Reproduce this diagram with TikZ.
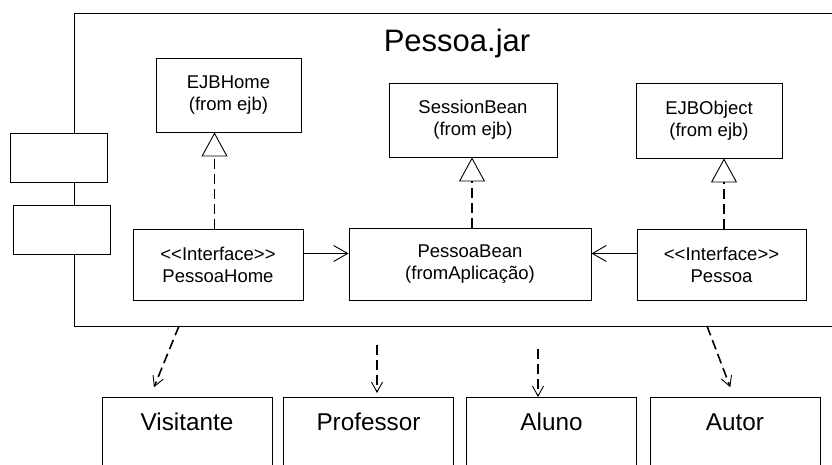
\documentclass[tikz,border=0pt]{standalone}
\usepackage{fontspec}
\setmainfont{Liberation Sans}
\usetikzlibrary{arrows.meta}

\begin{document}
\begin{tikzpicture}[
x=1pt, y=-1pt,
classbox/.style={
draw,
fill=white,
align=center,
line width=0.9pt,
inner sep=0pt,
font=\fontsize{18.5}{22}\selectfont
},
tabbox/.style={
draw,
fill=white,
line width=0.9pt,
minimum width=97pt,
minimum height=49pt
},
actor/.style={
draw,
anchor=north,
line width=0.9pt,
inner sep=0pt,
minimum width=170pt,
text height=33pt,
text depth=50pt,
font=\fontsize{24.3}{28}\selectfont
},
realize/.style={
-{Triangle[open, length=24pt, width=26pt, line width=0.9pt]},
dash pattern=on 10pt off 5pt,
line width=1.8pt
},
assoc/.style={
-{Straight Barb[length=14pt, width=16pt, line width=0.9pt]},
line width=0.9pt
},
depend/.style={
-{Straight Barb[length=10pt, width=11pt, line width=0.9pt]},
dash pattern=on 10pt off 5pt,
line width=1.6pt
}
]
\useasboundingbox (0,0) rectangle (832,465);
\clip (0,0) rectangle (832,465);

% component
\node[draw, line width=0.9pt, inner sep=0pt, minimum width=786pt, minimum height=313pt] (jar) at (467,169.5) {};
\node[font=\fontsize{31}{36}\selectfont] (jartitle) at (457,43) {Pessoa.jar};
\node[tabbox] (tab1) at (58.5,157.5) {};
\node[tabbox] (tab2) at (61.5,229.5) {};

% classes
\node[classbox, minimum width=145pt, minimum height=74pt] (ejbhome) at (228.5,95) {EJBHome\\(from ejb)};
\node[classbox, minimum width=168pt, minimum height=74pt] (sessionbean) at (473,120) {SessionBean\\(from ejb)};
\node[classbox, minimum width=146pt, minimum height=75pt] (ejbobject) at (709,120.5) {EJBObject\\(from ejb)};
\node[classbox, minimum width=170pt, minimum height=71pt] (pessoahome) at (218,264.5) {<{}<Interface>{}>\\PessoaHome};
\node[classbox, minimum width=242pt, minimum height=72pt] (pessoabean) at (470,264) {PessoaBean\\(fromAplicação)};
\node[classbox, minimum width=169pt, minimum height=71pt] (pessoa) at (721.5,264.5) {<{}<Interface>{}>\\Pessoa};

\draw[realize] ([xshift=-3.5pt]pessoahome.north) -- ([xshift=-3.5pt]pessoahome.north |- ejbhome.south);
\draw[realize] ([xshift=2pt]pessoabean.north) -- ([xshift=2pt]pessoabean.north |- sessionbean.south);
\draw[realize] ([xshift=2.5pt]pessoa.north) -- ([xshift=2.5pt]pessoa.north |- ejbobject.south);

\draw[assoc] ([yshift=11pt]pessoahome.east) -- ([yshift=11pt]pessoahome.east -| pessoabean.west);
\draw[assoc] ([yshift=11pt]pessoa.west) -- ([yshift=11pt]pessoa.west -| pessoabean.east);

% actors
\node[actor] (visitante) at (187,397) {Visitante};
\node[actor] (professor) at (368.5,397) {Professor};
\node[actor] (aluno) at (551.5,397) {Aluno};
\node[actor] (autor) at (735,397) {Autor};

\coordinate (d1) at (179,326);
\coordinate (d2) at (377,345);
\coordinate (d3) at (538,349);
\coordinate (d4) at (707,326);

\draw[depend, shorten >=10.5pt] (d1) -- ([xshift=-37pt]visitante.north);
\draw[depend, shorten >=4pt] (d2) -- (d2 |- professor.north);
\draw[depend] (d3) -- (d3 |- aluno.north);
\draw[depend, shorten >=10.5pt] (d4) -- ([xshift=-1pt]autor.north);

\end{tikzpicture}
\end{document}
